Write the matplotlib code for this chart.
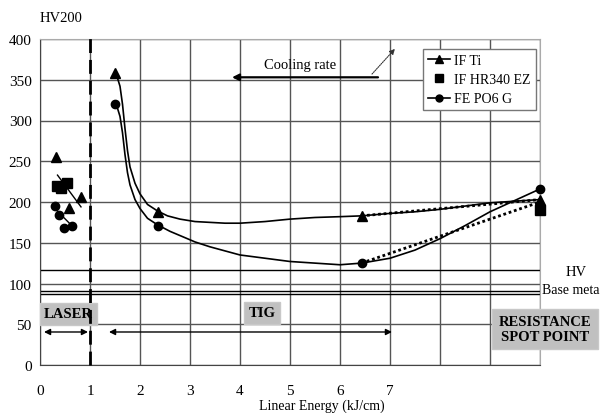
import matplotlib
matplotlib.use("Agg")
import matplotlib.pyplot as plt
from matplotlib.lines import Line2D

plt.rcParams['font.family'] = ['Liberation Serif', 'DejaVu Serif']

# ---- data ----
# laser points
laser_ti_x = [0.32, 0.57, 0.82]
laser_ti_y = [255, 193, 206]
laser_hr_x = [0.33, 0.42, 0.53]
laser_hr_y = [220, 217, 223]
laser_fe_x = [0.30, 0.37, 0.47, 0.63]
laser_fe_y = [195, 184, 168, 170]
laser_trend1_x = [0.35, 0.82]
laser_trend1_y = [233, 194]
laser_trend2_x = [0.33, 0.70]
laser_trend2_y = [190, 167]

# TIG + resistance points
ti_x = [1.5, 2.35, 6.43, 10.0]
ti_y = [358, 188, 183, 203]
hr_x = [10.0]
hr_y = [190]
fe_x = [1.5, 2.35, 6.43, 10.0]
fe_y = [320, 171, 125, 216]

# smooth curves
ti_curve_x = [1.5, 1.55, 1.6, 1.65, 1.7, 1.75, 1.8, 1.9, 2.0, 2.15, 2.35, 2.55, 2.8, 3.1, 3.4, 3.7, 4.0, 4.5, 5.0, 5.5, 6.0, 6.43, 7.0, 7.5, 8.0, 8.5, 9.0, 9.5, 10.0]
ti_curve_y = [358, 352, 342, 320, 290, 263, 243, 223, 210, 197, 189, 183, 179, 176, 175, 174, 174, 176, 179, 181, 182, 183, 186, 188, 191, 195, 199, 201, 203]
fe_curve_x = [1.5, 1.55, 1.6, 1.65, 1.7, 1.75, 1.8, 1.9, 2.0, 2.15, 2.35, 2.6, 2.87, 3.1, 3.4, 3.7, 4.0, 4.5, 5.0, 5.5, 6.0, 6.43, 7.0, 7.5, 8.0, 8.5, 9.0, 9.5, 10.0]
fe_curve_y = [320, 315, 305, 285, 258, 236, 221, 203, 192, 180, 172, 164, 157, 151, 145, 140, 135, 131, 127, 125, 123, 125, 131, 141, 155, 171, 188, 202, 216]
ti_lin_x = [6.43, 10.0]
ti_lin_y = [183, 203]
fe_lin_x = [6.43, 10.0]
fe_lin_y = [125, 200]

hv_lines = [116, 91, 87]
xticks = [0, 1, 2, 3, 4, 5, 6, 7]
yticks = [0, 50, 100, 150, 200, 250, 300, 350, 400]

W, H = 602, 414
fig = plt.figure(figsize=(W / 100, H / 100), dpi=100)
ax = fig.add_axes([40 / W, (H - 366) / H, 500 / W, 326 / H])
ax.set_xlim(0, 10)
ax.set_ylim(0, 400)

grid_c = '#555555'
for gx in range(0, 11):
    ax.axvline(gx, color=grid_c, lw=1.0, zorder=1)
for gy in yticks:
    ax.axhline(gy, color=grid_c, lw=1.0, zorder=1)
for hv in hv_lines:
    ax.axhline(hv, color='black', lw=1.0, zorder=1)

ax.set_xticks(xticks)
ax.set_yticks(yticks)
ax.tick_params(length=0, labelsize=11, pad=6, colors='black')
ax.tick_params(axis='x', pad=14)
for s in ['top', 'right']:
    ax.spines[s].set_color('#aaaaaa')
for s in ['left', 'bottom']:
    ax.spines[s].set_color('#444444')

# dashed separator
ax.plot([1, 1], [0, 407], color='black', lw=2.0, ls=(0, (5, 2.5)), clip_on=False, zorder=4)

# curves
ax.plot(ti_curve_x, ti_curve_y, color='black', lw=1.2, zorder=3)
ax.plot(fe_curve_x, fe_curve_y, color='black', lw=1.2, zorder=3)
ax.plot(ti_lin_x, ti_lin_y, color='black', lw=2.0, ls=(0, (1, 1)), zorder=3)
ax.plot(fe_lin_x, fe_lin_y, color='black', lw=2.0, ls=(0, (1, 1)), zorder=3)
ax.plot(laser_trend1_x, laser_trend1_y, color='black', lw=1.0, zorder=3)
ax.plot(laser_trend2_x, laser_trend2_y, color='black', lw=1.0, zorder=3)

ax.plot(laser_ti_x + ti_x, laser_ti_y + ti_y, ls='none', marker='^', ms=7, color='black', zorder=5, clip_on=False)
ax.plot(laser_hr_x + hr_x, laser_hr_y + hr_y, ls='none', marker='s', ms=6.5, color='black', zorder=5, clip_on=False)
ax.plot(laser_fe_x + fe_x, laser_fe_y + fe_y, ls='none', marker='o', ms=6, color='black', zorder=5, clip_on=False)

# arrows
ap = dict(arrowstyle='<|-|>', color='black', lw=1.0, mutation_scale=9, shrinkA=0, shrinkB=0)
ax.annotate('', xy=(0.96, 40.5), xytext=(0.08, 40.5), arrowprops=ap)
ax.annotate('', xy=(7.04, 40.5), xytext=(1.38, 40.5), arrowprops=ap)
ax.annotate('', xy=(3.84, 353), xytext=(6.76, 353),
            arrowprops=dict(arrowstyle='-|>', color='black', lw=1.6, mutation_scale=10, shrinkA=0, shrinkB=0))
ax.annotate('', xy=(7.1, 388), xytext=(6.64, 357),
            arrowprops=dict(arrowstyle='-|>', color='#333333', lw=0.8, ls=(0, (1, 1)), mutation_scale=8, shrinkA=0, shrinkB=0))
ax.text(5.2, 369, 'Cooling rate', ha='center', va='center', fontsize=10.5)

box = dict(boxstyle='square,pad=0.3', fc='#c0c0c0', ec='#c8c8c8')
ax.text(0.08, 63, 'LASER', ha='left', va='center', fontsize=10.5, fontweight='bold', bbox=box)
ax.text(4.17, 64, 'TIG', ha='left', va='center', fontsize=10.5, fontweight='bold',
        bbox=dict(boxstyle='square,pad=0.3', fc='#c0c0c0', ec='#c8c8c8'))
fig.text(545 / W, (H - 330) / H, 'RESISTANCE\nSPOT POINT', ha='center', va='center', fontsize=10.5,
         fontweight='bold', linespacing=1.15,
         bbox=dict(boxstyle='square,pad=0.45', fc='#c0c0c0', ec='#c8c8c8'))

fig.text(576 / W, (H - 273) / H, 'HV', ha='center', va='center', fontsize=10.5)
fig.text(571 / W, (H - 291) / H, 'Base meta', ha='center', va='center', fontsize=10)
fig.text(40 / W, (H - 18) / H, 'HV200', ha='left', va='center', fontsize=10.5)
fig.text(322 / W, (H - 406) / H, 'Linear Energy (kJ/cm)', ha='center', va='center', fontsize=10)

handles = [Line2D([], [], color='black', lw=1.2, marker='^', ms=6),
           Line2D([], [], color='black', lw=0, marker='s', ms=5.5),
           Line2D([], [], color='black', lw=1.2, marker='o', ms=5)]
leg = ax.legend(handles, ['IF Ti', 'IF HR340 EZ', 'FE PO6 G'], loc='upper left',
                bbox_to_anchor=((423 - 40) / 500, (366 - 50) / 326), fontsize=10,
                frameon=True, fancybox=False, edgecolor='#777777', framealpha=1,
                handlelength=1.6, handletextpad=0.3, borderpad=0.35, labelspacing=0.45,
                borderaxespad=0)
leg.get_frame().set_linewidth(1.0)
leg.set_zorder(6)

fig.savefig('out.png', dpi=100)
